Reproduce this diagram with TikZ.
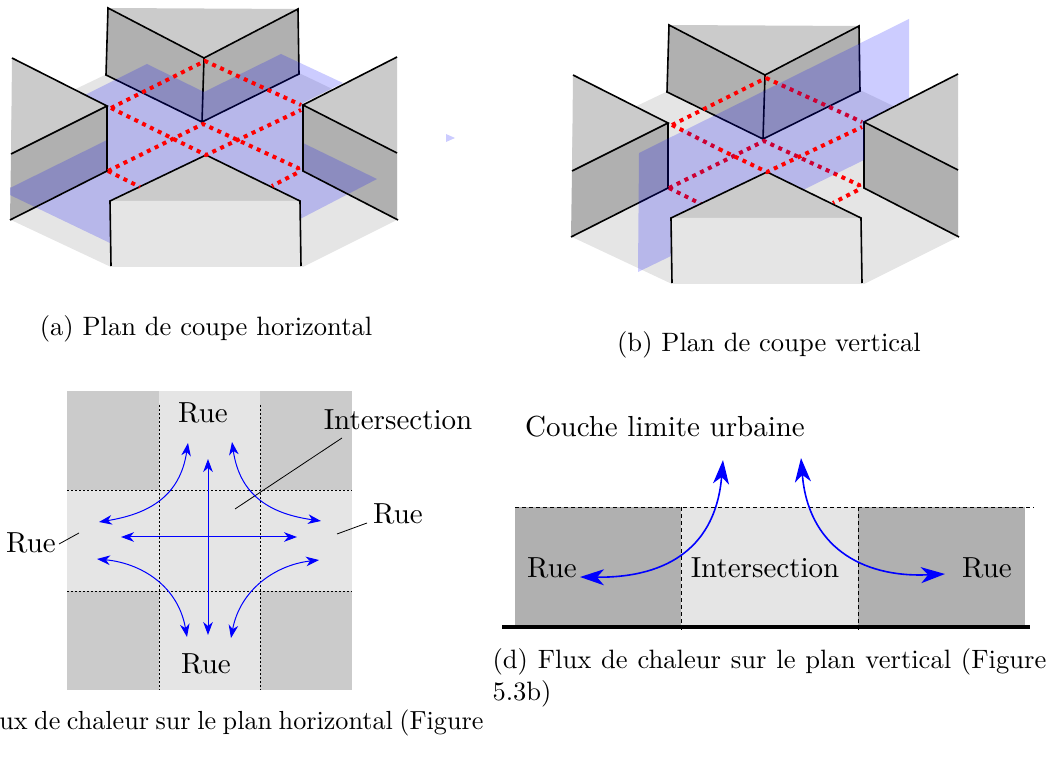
\documentclass[tikz,border=0pt]{standalone}
\usepackage{xcolor}
\usepackage{tikz}
\usetikzlibrary{arrows.meta, calc}
\definecolor{roofgray}{RGB}{203, 203, 203}
\definecolor{wallgray}{RGB}{176, 176, 176}
\definecolor{streetgray}{RGB}{229, 229, 229}

\begin{document}
\begin{tikzpicture}[
    x=0.5pt, y=-0.5pt,
    roof/.style={fill=roofgray, draw=none},
    wall/.style={fill=wallgray, draw=none},
    street/.style={fill=streetgray, draw=none},
    edge/.style={draw=black, line width=0.8pt},
    plane/.style={fill=blue, opacity=0.2, draw=none},
    cutline/.style={draw=red, line width=2pt, dash pattern=on 2pt off 2.35pt},
    fineline/.style={draw=black, line width=0.4pt, dash pattern=on 1pt off 1pt},
    dashline/.style={draw=black, line width=0.4pt, dash pattern=on 2pt off 1.5pt},
    leader/.style={draw=black, line width=0.4pt},
    flow/.style={{Stealth[length=6.5pt, width=4.8pt, inset=2pt]}-{Stealth[length=6.5pt, width=4.8pt, inset=2pt]}, draw=blue, line width=0.5pt},
    bigflow/.style={{Stealth[length=12pt, width=8pt, inset=3.5pt]}-{Stealth[length=12pt, width=8pt, inset=3.5pt]}, draw=blue, line width=0.8pt},
    label/.style={inner sep=0pt, scale=1.45, transform shape},
    caption/.style={inner sep=0pt, scale=1.328, transform shape},
]
    \path[use as bounding box] (0,0) rectangle (1050,764);

    % plan de coupe horizontal
    \fill[street] (11,220) -- (111,267) -- (303,267) -- (397,220) -- (397,120) -- (299,73) -- (107,74) -- (11,120) -- cycle;
    \fill[roof] (108,8) -- (298,9) -- (204,58) -- cycle;
    \fill[wall] (108,8) -- (204,58) -- (298,9) -- (299,74) -- (202,122) -- (106,75) -- cycle;
    \fill[roof] (12,58) -- (107,106) -- (11,154) -- cycle;
    \fill[wall] (11,154) -- (107,106) -- (107,171) -- (10,220) -- cycle;
    \fill[roof] (397,57) -- (303,105) -- (397,153) -- cycle;
    \fill[wall] (303,105) -- (397,153) -- (397,220) -- (303,171) -- cycle;
    \draw[edge] (108,8) -- (204,58) -- (298,9) -- (299,74) -- (202,122) -- (106,75) -- cycle;
    \draw[edge] (204,58) -- (202,122);
    \fill[plane] (10,188) -- (107,140) -- (107,106) -- (85,95) -- (147,64) -- (204,92) -- (281,54) -- (343,83) -- (303,103) -- (303,143) -- (377,179) -- (302,218) -- (110,243) -- (10,195) -- cycle;
    \draw[edge] (12,58) -- (107,106) -- (11,154);
    \draw[edge] (107,106) -- (107,171) -- (10,220);
    \draw[edge] (397,57) -- (303,105) -- (397,153);
    \draw[edge] (303,105) -- (303,171) -- (398,220);
    \fill[roof] (110,201) -- (206,155) -- (299,201) -- cycle;
    \fill[street] (110,201) -- (300,201) -- (302,267) -- (111,267) -- cycle;
    \draw[edge] (111,266) -- (110,201) -- (206,155) -- (300,201) -- (301,266);
    \draw[cutline] (111,108) -- (205,61) -- (301,105);
    \draw[cutline] (111,108) -- (206,155) -- (301,110);
    \draw[cutline] (108,171) -- (203,124) -- (298,168) -- (299,172) -- (272,186);
    \draw[cutline] (108,171) -- (140,187);
    \fill[plane] (446,134) -- (455,138) -- (446,142) -- cycle;

    % plan de coupe vertical
    \begin{scope}[shift={(561,17)}]
        \fill[street] (11,220) -- (111,267) -- (303,267) -- (397,220) -- (397,120) -- (299,73) -- (107,74) -- (11,120) -- cycle;
        \fill[roof] (108,8) -- (298,9) -- (204,58) -- cycle;
        \fill[wall] (108,8) -- (204,58) -- (298,9) -- (299,74) -- (202,122) -- (106,75) -- cycle;
        \fill[roof] (12,58) -- (107,106) -- (11,154) -- cycle;
        \fill[wall] (11,154) -- (107,106) -- (107,171) -- (10,220) -- cycle;
        \fill[roof] (397,57) -- (303,105) -- (397,153) -- cycle;
        \fill[wall] (303,105) -- (397,153) -- (397,220) -- (303,171) -- cycle;
        \draw[edge] (108,8) -- (204,58) -- (298,9) -- (299,74) -- (202,122) -- (106,75) -- cycle;
        \draw[edge] (204,58) -- (202,122);
        \draw[edge] (12,58) -- (107,106) -- (11,154);
        \draw[edge] (107,106) -- (107,171) -- (10,220);
        \draw[edge] (397,57) -- (303,105) -- (397,153);
        \draw[edge] (303,105) -- (303,171) -- (398,220);
        \draw[cutline] (205,61) -- (301,105);
        \draw[cutline] (111,108) -- (158,132);
        \draw[cutline] (108,171) -- (203,124) -- (298,168) -- (299,172) -- (272,186);
        \draw[cutline] (108,171) -- (140,187);
        \fill[plane] (78,136) -- (348,2) -- (348,81) -- (334,88) -- (303,105) -- (303,143) -- (246,171) -- (110,239) -- (77,255) -- cycle;
        \fill[roof] (110,201) -- (206,155) -- (299,201) -- cycle;
        \fill[street] (110,201) -- (300,201) -- (302,267) -- (111,267) -- cycle;
        \draw[edge] (111,266) -- (110,201) -- (206,155) -- (300,201) -- (301,266);
        \draw[cutline] (111,108) -- (205,61);
        \draw[cutline] (158,132) -- (206,155) -- (301,110);
    \end{scope}

    \node[caption] (capa) at (206,329) {(a) Plan de coupe horizontal};
    \node[caption] (capb) at (769,345) {(b) Plan de coupe vertical};

    % flux sur le plan horizontal
    \fill[street] (67,391) rectangle (352,690);
    \fill[roof] (67,391) rectangle (159,490);
    \fill[roof] (260,391) rectangle (352,490);
    \fill[roof] (67,591) rectangle (159,690);
    \fill[roof] (260,591) rectangle (352,690);
    \draw[fineline] (159,405) -- (159,690);
    \draw[fineline] (260,405) -- (260,690);
    \draw[fineline] (67,490) -- (352,490);
    \draw[fineline] (67,591) -- (352,591);

    \node[label] (ruetop) at (203,413) {Rue};
    \node[label] (ruebottom) at (206,664) {Rue};
    \node[label] (rueright) at (398,514) {Rue};
    \node[label] (rueleft) at (31,543) {Rue};
    \node[label] (intertop) at (398,420) {Intersection};

    \coordinate (interfoot) at (235,509);
    \coordinate (interhead) at (342,438);
    \coordinate (rightfoot) at (337,534);
    \coordinate (righthead) at (367,523);
    \coordinate (leftfoot) at (79,533);
    \coordinate (lefthead) at (59,544);
    \draw[leader] (interhead) -- (interfoot);
    \draw[leader] (righthead) -- (rightfoot);
    \draw[leader] (lefthead) -- (leftfoot);

    \coordinate (northtip) at (208,459);
    \coordinate (southtip) at (208,635);
    \coordinate (westtip) at (121,537);
    \coordinate (easttip) at (297,537);
    \draw[flow] (northtip) -- (southtip);
    \draw[flow] (westtip) -- (easttip);

    \coordinate (nwa) at (188,443);
    \coordinate (nwb) at (99,522);
    \coordinate (nea) at (232,442);
    \coordinate (neb) at (321,521);
    \coordinate (swa) at (97,559);
    \coordinate (swb) at (187,637);
    \coordinate (sea) at (319,560);
    \coordinate (seb) at (231,638);
    \draw[flow] (nwa) .. controls (180,497) and (148,514) .. (nwb);
    \draw[flow] (nea) .. controls (240,497) and (272,514) .. (neb);
    \draw[flow] (swa) .. controls (140,563) and (178,585) .. (swb);
    \draw[flow] (sea) .. controls (275,565) and (240,590) .. (seb);

    \node[caption, scale=0.985, anchor=base east] (capc) at (484,729) {\spaceskip=2.5pt ux de chaleur sur le plan horizontal (Figure};

    % flux sur le plan vertical
    \fill[wall] (515,507) rectangle (681,627);
    \fill[street] (681,507) rectangle (858,627);
    \fill[wall] (858,507) rectangle (1025,627);
    \coordinate (topleft) at (515,507);
    \coordinate (topright) at (1034,507);
    \coordinate (groundleft) at (502,627);
    \coordinate (groundright) at (1030,627);
    \draw[dashline] (topleft) -- (topright);
    \draw[dashline] (681,507) -- (681,631);
    \draw[dashline] (858,507) -- (858,631);
    \draw[line width=1.8pt] (groundleft) -- (groundright);

    \node[label] (couche) at (665,427) {Couche limite urbaine};
    \node[label] (rueg) at (552,568) {Rue};
    \node[label] (inter) at (765,568) {Intersection};
    \node[label] (rued) at (987,568) {Rue};

    \coordinate (upleft) at (723,460);
    \coordinate (sideleft) at (580,577);
    \coordinate (upright) at (801,458);
    \coordinate (sideright) at (945,574);
    \draw[bigflow] (upleft) .. controls (716,545) and (670,578) .. (sideleft);
    \draw[bigflow] (upright) .. controls (808,545) and (860,578) .. (sideright);

    \node[caption, anchor=north west, text width=208.5pt, align=justify] (capd) at (492,648)
        {\baselineskip=12pt (d) Flux de chaleur sur le plan vertical (Figure 5.3b)};
\end{tikzpicture}
\end{document}
